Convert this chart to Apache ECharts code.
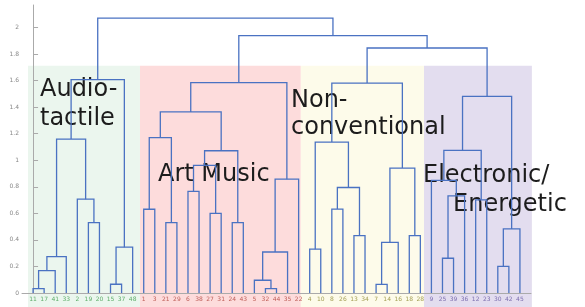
<!DOCTYPE html>
<html>
<head>
<meta charset="utf-8">
<script src="https://cdn.jsdelivr.net/npm/echarts@6/dist/echarts.min.js"></script>
<style>
  html, body { margin: 0; padding: 0; background: #fff; }
  #chart { width: 585px; height: 307px; }
</style>
</head>
<body>
<div id="chart"></div>
<script>
// leaf labels, left to right as the dendrogram orders them
const leafNames = [
  "11", "17", "41", "33", "2", "19", "20", "15", "37", "48",
  "1", "3", "21", "29", "6", "38", "27", "31", "24", "43", "5", "32", "44", "35", "22",
  "4", "10", "8", "26", "13", "34", "7", "14", "16", "18", "28",
  "9", "25", "39", "36", "12", "23", "30", "42", "45"
];
// number of leaves in each cluster (same order as leafNames)
const groupSizes = [10, 15, 11, 9];

// linkage rows: [child a, child b, height]; ids >= 45 are earlier merges
const linkage = [
  [0, 1, 0.033], [45, 2, 0.168], [46, 3, 0.274], [5, 6, 0.53], [4, 48, 0.707],
  [47, 49, 1.16], [7, 8, 0.066], [51, 9, 0.345], [50, 52, 1.607],
  [10, 11, 0.631], [12, 13, 0.53], [54, 55, 1.17], [14, 15, 0.765], [16, 17, 0.6],
  [57, 58, 0.961], [18, 19, 0.53], [59, 60, 1.072], [56, 61, 1.364], [21, 22, 0.033],
  [20, 63, 0.096], [64, 23, 0.309], [65, 24, 0.858], [62, 66, 1.585],
  [25, 26, 0.33], [27, 28, 0.632], [29, 30, 0.433], [69, 70, 0.795], [68, 71, 1.137],
  [31, 32, 0.065], [73, 33, 0.382], [34, 35, 0.433], [74, 75, 0.941], [72, 76, 1.582],
  [37, 38, 0.262], [78, 39, 0.732], [36, 79, 0.848], [40, 41, 0.702], [80, 81, 1.075],
  [42, 43, 0.2], [83, 44, 0.483], [82, 84, 1.482],
  [77, 85, 1.846], [67, 86, 1.94], [53, 87, 2.071]
];

// shaded cluster bands (x in leaf units)
const bandEdges = [-0.46, 9.66, 24.2, 35.33, 45.08];
const bandTop = 1.713;

const yTicks = [0, 0.2, 0.4, 0.6, 0.8, 1, 1.2, 1.4, 1.6, 1.8, 2];

const bandColors = ["#ebf6ee", "#fddcdc", "#fdfbea", "#e3ddef"];
const labelColors = ["#5fae6a", "#c0605a", "#a5a055", "#7d6fb0"];
const lineColor = "#4a72c2";
const axisGrey = "#aaaaaa";

// group of every leaf
let leafGroup = [];
groupSizes.forEach((n, g) => { for (let i = 0; i < n; i++) leafGroup.push(g); });

// node positions and heights
let pos = leafNames.map((_, i) => i);
let hgt = leafNames.map(() => 0);
let linkData = [];
linkage.forEach((row) => {
  let a = row[0], b = row[1], h = row[2];
  linkData.push([pos[a], hgt[a], pos[b], hgt[b], h]);
  pos.push((pos[a] + pos[b]) / 2);
  hgt.push(h);
});

let bandData = bandColors.map((c, i) => [bandEdges[i], bandEdges[i + 1], i]);

let rich = {};
labelColors.forEach((c, g) => { rich["g" + g] = { color: c, fontSize: 6, fontFamily: "DejaVu Sans" }; });

// big cluster names, drawn under the tree lines
const textStyleBig = { fontSize: 24, fontFamily: "DejaVu Sans", fill: "#1c1c1c", verticalAlign: "middle" };
function bigText(str, x, y) {
  return { type: "text", x: x, y: y, style: Object.assign({ text: str }, textStyleBig) };
}

let chart = echarts.init(document.getElementById("chart"));
chart.setOption({
  animation: false,
  grid: { left: 22, right: 54, top: 5, bottom: 14 },
  xAxis: {
    type: "value",
    min: -1,
    max: 45,
    splitLine: { show: false },
    axisTick: { show: false },
    axisLine: { onZero: true, lineStyle: { color: axisGrey, width: 1 } },
    axisLabel: {
      customValues: leafNames.map((_, i) => i),
      margin: 3,
      formatter: (v) => "{g" + leafGroup[v] + "|" + leafNames[v] + "}",
      rich: rich
    }
  },
  yAxis: {
    type: "value",
    min: 0,
    max: 2.17,
    splitLine: { show: false },
    axisLine: { show: true, lineStyle: { color: axisGrey, width: 1 } },
    axisTick: { show: true, inside: true, length: 5, customValues: yTicks, lineStyle: { color: axisGrey } },
    axisLabel: {
      customValues: yTicks,
      margin: 3,
      fontSize: 6,
      color: "#888",
      fontFamily: "DejaVu Sans",
      formatter: (v) => String(v)
    }
  },
  graphic: {
    elements: [
      { type: "group", z: 1, children: [
        bigText("Audio-", 40, 89.8),
        bigText("tactile", 40, 118.5),
        bigText("Art Music", 158, 174.5),
        bigText("Non-", 291, 101.1),
        bigText("conventional", 291, 127.8),
        bigText("Electronic/", 423, 175.5),
        bigText("Energetic", 453, 204.5)
      ] }
    ]
  },
  series: [
    {
      type: "custom",
      z: -10,
      clip: false,
      silent: true,
      data: bandData,
      encode: { x: [0, 1] },
      renderItem: (params, api) => {
        let p0 = api.coord([api.value(0), bandTop]);
        let p1 = api.coord([api.value(1), -0.11]);
        return {
          type: "rect",
          shape: { x: p0[0], y: p0[1], width: p1[0] - p0[0], height: p1[1] - p0[1] },
          style: { fill: bandColors[api.value(2)] }
        };
      }
    },
    {
      type: "custom",
      z: 5,
      clip: false,
      data: linkData,
      encode: { x: [0, 2], y: [1, 3, 4] },
      renderItem: (params, api) => {
        let pts = [
          api.coord([api.value(0), api.value(1)]),
          api.coord([api.value(0), api.value(4)]),
          api.coord([api.value(2), api.value(4)]),
          api.coord([api.value(2), api.value(3)])
        ];
        return {
          type: "polyline",
          shape: { points: pts },
          style: { stroke: lineColor, lineWidth: 1.3, fill: null }
        };
      }
    }
  ]
});
</script>
</body>
</html>
